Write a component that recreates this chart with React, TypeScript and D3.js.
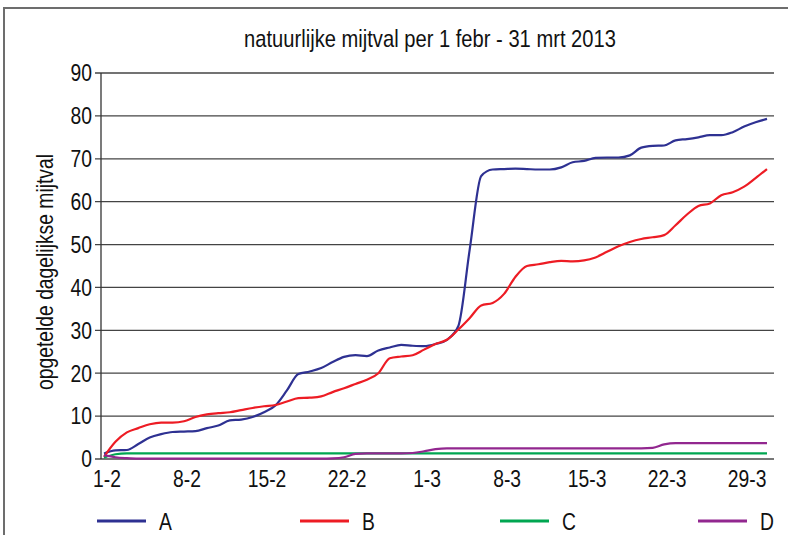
import * as d3 from "d3";

const xTickLabels = ["1-2", "8-2", "15-2", "22-2", "1-3", "8-3", "15-3", "22-3", "29-3"];
const xTickDays = [0, 7, 14, 21, 28, 35, 42, 49, 56];
const yTicks = [0, 10, 20, 30, 40, 50, 60, 70, 80, 90];

// opgetelde mijtval per dag, 1-2 t/m 31-3
const seriesA = [
  1.3, 2.0, 2.1, 3.5, 5.0, 5.8, 6.3, 6.4, 6.5, 7.2, 7.8, 9.0, 9.2, 9.8, 10.9, 12.5, 16.0, 19.8, 20.4, 21.2,
  22.6, 23.8, 24.2, 24.0, 25.3, 26.0, 26.6, 26.4, 26.3, 26.8, 27.8, 31.0, 49.0, 66.0, 67.5, 67.6, 67.7, 67.6, 67.5, 67.5,
  68.0, 69.2, 69.5, 70.2, 70.3, 70.3, 70.8, 72.6, 73.0, 73.1, 74.3, 74.6, 75.0, 75.5, 75.5, 76.2, 77.5, 78.5, 79.3,
];
const seriesB = [
  0.5, 4.0, 6.2, 7.2, 8.1, 8.5, 8.5, 8.8, 9.8, 10.4, 10.7, 10.9, 11.4, 11.9, 12.3, 12.6, 13.4, 14.2, 14.3, 14.6,
  15.6, 16.5, 17.5, 18.5, 20.0, 23.5, 23.9, 24.2, 25.5, 26.8, 27.8, 30.2, 32.9, 35.8, 36.4, 38.5, 42.5, 45.0, 45.4, 45.9,
  46.2, 46.1, 46.3, 47.0, 48.3, 49.6, 50.6, 51.3, 51.7, 52.2, 54.5, 57.0, 59.0, 59.6, 61.5, 62.2, 63.5, 65.5, 67.6,
];
const seriesC = [
  0.3, 1.1, 1.3, 1.3, 1.3, 1.3, 1.3, 1.3, 1.3, 1.3, 1.3, 1.3, 1.3, 1.3, 1.3, 1.3, 1.3, 1.3, 1.3, 1.3,
  1.3, 1.3, 1.3, 1.3, 1.3, 1.3, 1.3, 1.3, 1.3, 1.3, 1.3, 1.3, 1.3, 1.3, 1.3, 1.3, 1.3, 1.3, 1.3, 1.3,
  1.3, 1.3, 1.3, 1.3, 1.3, 1.3, 1.3, 1.3, 1.3, 1.3, 1.3, 1.3, 1.3, 1.3, 1.3, 1.3, 1.3, 1.3, 1.3,
];
const seriesD = [
  0.9, 0.4, 0.2, 0.1, 0.1, 0.1, 0.1, 0.1, 0.1, 0.1, 0.1, 0.1, 0.1, 0.1, 0.1, 0.1, 0.1, 0.1, 0.1, 0.1,
  0.15, 0.4, 1.2, 1.3, 1.3, 1.3, 1.3, 1.4, 1.8, 2.3, 2.5, 2.5, 2.5, 2.5, 2.5, 2.5, 2.5, 2.5, 2.5, 2.5,
  2.5, 2.5, 2.5, 2.5, 2.5, 2.5, 2.5, 2.5, 2.6, 3.4, 3.7, 3.7, 3.7, 3.7, 3.7, 3.7, 3.7, 3.7, 3.7,
];

const seriesNames = ["A", "B", "C", "D"];
const seriesColors = ["#2e3192", "#ed1c24", "#00a651", "#92278f"];
const seriesData = [seriesA, seriesB, seriesC, seriesD];

const font = "'Liberation Sans', Arial, sans-serif";
const narrow = 0.84; // smalle letter, zoals Helvetica Condensed

// tekst horizontaal samengedrukt
function NText({ x, y, anchor = "start", size = 23, rotate = 0, children }: any) {
  return (
    <text
      transform={`translate(${x},${y}) rotate(${rotate}) scale(${narrow},1)`}
      textAnchor={anchor}
      fontSize={size}
      fill="#111"
    >
      {children}
    </text>
  );
}

export default function App() {
  const width = 788;
  const height = 535;
  const plotLeft = 101;
  const plotRight = 774;

  const x = d3.scaleLinear().domain([0, 58]).range([104, 767]);
  const y = d3.scaleLinear().domain([0, 90]).range([459, 73]);

  const line = d3
    .line<number>()
    .x((_, i) => x(i))
    .y((d) => y(d))
    .curve(d3.curveMonotoneX);

  const legendX = [97, 300, 500, 698];

  return (
    <svg
      width={width}
      height={height}
      style={{ position: "absolute", left: 0, top: 0, background: "#fff" }}
      fontFamily={font}
    >
      {/* kader */}
      <rect x={4} y={8} width={800} height={540} fill="none" stroke="#6d6d6d" strokeWidth={2} />

      <NText x={430} y={47} anchor="middle" size={24}>
        natuurlijke mijtval per 1 febr - 31 mrt 2013
      </NText>

      {/* gridlines + y ticks */}
      {yTicks.map((t) => (
        <g key={t}>
          <line x1={95} x2={plotRight} y1={y(t)} y2={y(t)} stroke={t === 0 ? "#777" : "#444"} strokeWidth={t === 0 ? 2 : 1.3} />
          <NText x={92} y={y(t) + 8.3} anchor="end">
            {t}
          </NText>
        </g>
      ))}

      {/* y-as */}
      <line x1={plotLeft} x2={plotLeft} y1={y(90)} y2={y(0)} stroke="#333" strokeWidth={1.3} />

      {/* x labels */}
      {xTickDays.map((d, i) => (
        <NText key={d} x={x(d) + 3} y={487} anchor="middle">
          {xTickLabels[i]}
        </NText>
      ))}

      <NText x={53} y={272} anchor="middle" rotate={-90} size={23}>
        opgetelde dagelijkse mijtval
      </NText>

      {/* lijnen */}
      {seriesData.map((s, i) => (
        <path key={seriesNames[i]} d={line(s) ?? ""} fill="none" stroke={seriesColors[i]} strokeWidth={2.2} />
      ))}

      {/* legenda */}
      {seriesNames.map((n, i) => (
        <g key={n}>
          <line x1={legendX[i]} x2={legendX[i] + 49} y1={521} y2={521} stroke={seriesColors[i]} strokeWidth={3} />
          <NText x={legendX[i] + 62} y={530}>
            {n}
          </NText>
        </g>
      ))}
    </svg>
  );
}
